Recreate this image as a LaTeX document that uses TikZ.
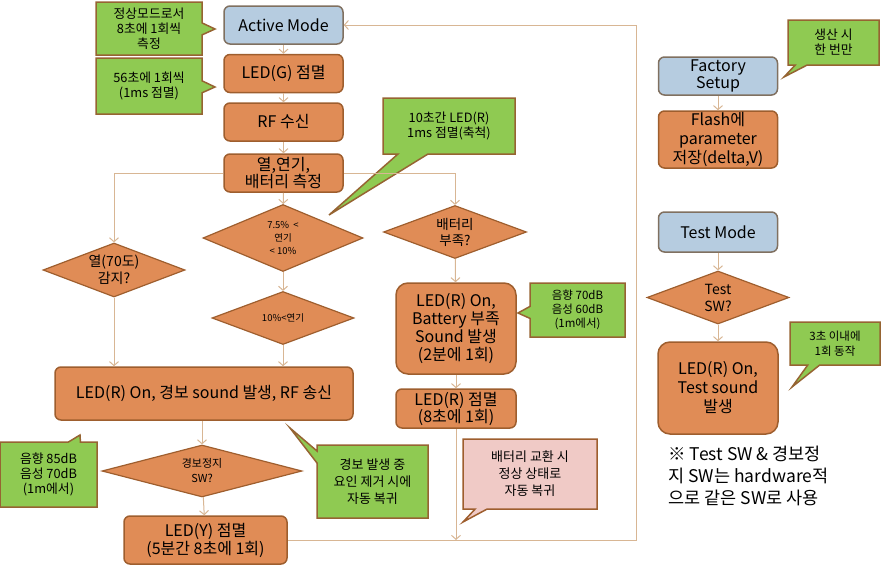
\documentclass[tikz,border=0pt]{standalone}
\usepackage{fontspec}
\setmainfont{Noto Sans CJK KR}
\usetikzlibrary{shapes.geometric,shapes.callouts,arrows.meta}

\definecolor{boxfill}{RGB}{224,140,86}
\definecolor{boxline}{RGB}{158,94,46}
\definecolor{modefill}{RGB}{182,204,224}
\definecolor{modeline}{RGB}{128,112,96}
\definecolor{notefill}{RGB}{143,202,82}
\definecolor{noteline}{RGB}{150,100,50}
\definecolor{pinkfill}{RGB}{240,202,198}
\definecolor{flowline}{RGB}{216,182,148}

\begin{document}
\begin{tikzpicture}[x=1pt,y=-1pt,
    box/.style={rectangle, rounded corners=6pt, draw=boxline, fill=boxfill, line width=1.5pt,
        align=center, inner sep=0pt, minimum width=119pt, minimum height=38pt,
        font=\fontsize{16}{18}\selectfont},
    mode/.style={box, draw=modeline, fill=modefill},
    dec/.style={diamond, shape aspect=3, draw=boxline, fill=boxfill, line width=1.2pt,
        align=center, inner sep=0pt, font=\fontsize{13.5}{16}\selectfont},
    memo/.style={rectangle callout, draw=noteline, fill=notefill, line width=1.5pt,
        align=center, inner sep=0pt, callout pointer width=12pt,
        font=\fontsize{12.8}{15}\selectfont},
    flow/.style={draw=flowline, line width=1pt, -{Straight Barb[length=4pt,width=9pt]}}]
\useasboundingbox (0,0) rectangle (881,570);

% main flow
\node[mode] (act) at (283.5,25) {Active Mode};
\node[box] (ledg) at (283.5,73.5) {LED(G) 점멸};
\node[box] (rf) at (283.5,122) {RF 수신};
\node[box, font=\fontsize{16}{17}\selectfont] (meas) at (283.5,173) {열,연기,\\배터리 측정};
\node[dec, minimum width=160pt, minimum height=67pt, font=\fontsize{9.5}{13}\selectfont] (d75) at (283,238) {7.5\% ~<\\연기\\< 10\%};
\node[dec, minimum width=142pt, minimum height=53pt, font=\fontsize{9.5}{12}\selectfont] (d10) at (283,318) {10\%<연기};
\node[dec, minimum width=142pt, minimum height=54pt, font=\fontsize{14}{17}\selectfont] (heat) at (114,270) {열(70도)\\감지?};
\node[dec, minimum width=143pt, minimum height=53pt] (bat) at (455,232) {배터리\\부족?};
\node[box, rounded corners=12pt, minimum width=120pt, minimum height=91pt] (batbox) at (456,328.5) {LED(R) On,\\Battery 부족\\Sound 발생\\(2분에 1회)};
\node[box, minimum width=120pt, minimum height=39pt, font=\fontsize{16}{17}\selectfont] (ledr) at (456,408.5) {LED(R) 점멸\\(8초에 1회)};
\node[box, minimum width=298pt, minimum height=53pt] (alarm) at (204,393.5) {LED(R) On, 경보 sound 발생, RF 송신};
\node[dec, minimum width=200pt, minimum height=52pt, font=\fontsize{11}{15}\selectfont] (stop) at (202,471) {경보정지\\SW?};
\node[box, minimum width=163pt, minimum height=48pt, font=\fontsize{16}{18}\selectfont] (ledy) at (205.5,540) {LED(Y) 점멸\\(5분간 8초에 1회)};

% factory and test modes
\node[mode, font=\fontsize{16}{17}\selectfont] (fact) at (718,76) {Factory\\Setup};
\node[box, minimum height=57pt, font=\fontsize{16}{19}\selectfont] (flash) at (718,139.5) {Flash에\\parameter\\저장(delta,V)};
\node[mode, minimum height=40pt] (testm) at (718,232) {Test Mode};
\node[dec, minimum width=142pt, minimum height=53pt, font=\fontsize{14}{17}\selectfont] (tsw) at (718,297.5) {Test\\SW?};
\node[box, rounded corners=12pt, minimum width=120pt, minimum height=92pt, font=\fontsize{16}{19}\selectfont] (tbox) at (718,388) {LED(R) On,\\Test sound\\발생};
\node[anchor=west, align=left, font=\fontsize{17.5}{22}\selectfont] (hwnote) at (665,476) {※ Test SW \& 경보정\\지 SW는 hardware적\\으로 같은 SW로 사용};

% remarks
\node[memo, minimum width=106pt, minimum height=53pt, callout absolute pointer={(215,29)}] (m1) at (149,28.5) {정상모드로서\\8초에 1회씩\\측정};
\node[memo, minimum width=106pt, minimum height=56pt, callout absolute pointer={(215,87)}] (m2) at (149,86) {56초에 1회씩\\(1ms 점멸)};
\node[memo, minimum width=132pt, minimum height=56pt, callout pointer width=30pt, callout absolute pointer={(329,215)}] (m3) at (449,126) {10초간 LED(R)\\1ms 점멸(축척)};
\node[memo, minimum width=95pt, minimum height=54pt, font=\fontsize{11.5}{14}\selectfont, callout absolute pointer={(518,313)}] (m4) at (577.5,310) {음향 70dB\\음성 60dB\\(1m에서)};
\node[memo, minimum width=91pt, minimum height=45pt, callout absolute pointer={(784,77)}] (m5) at (833.5,42.5) {생산 시\\한 번만};
\node[memo, minimum width=90pt, minimum height=43pt, font=\fontsize{11.5}{15}\selectfont, callout absolute pointer={(792,387)}] (m6) at (835,343.5) {3초 이내에\\1회 동작};
\node[memo, minimum width=97pt, minimum height=65pt, callout absolute pointer={(80,435)}] (m7) at (48.5,474.5) {음향 85dB\\음성 70dB\\(1m에서)};
\node[memo, minimum width=111pt, minimum height=73pt, font=\fontsize{13}{17}\selectfont, callout absolute pointer={(290,428)}] (m8) at (372.5,481.5) {경보 발생 중\\요인 제거 시에\\자동 복귀};
\node[memo, fill=pinkfill, draw=boxline, minimum width=134pt, minimum height=70pt, font=\fontsize{13}{17}\selectfont, callout absolute pointer={(463,522)}] (m9) at (530,474) {배터리 교환 시\\정상 상태로\\자동 복귀};

% connectors
\draw[flow] (act) -- (ledg);
\draw[flow] (ledg) -- (rf);
\draw[flow] (rf) -- (meas);
\draw[flow] (meas) -- (d75);
\draw[flow] (d75) -- (d10);
\draw[flow] (meas.west) -| (heat.north);
\draw[flow] (meas.east) -| (bat.north);
\draw[flow] (heat.south) -- (heat.south |- alarm.north);
\draw[flow] (d10.south) -- (d10.south |- alarm.north);
\draw[flow] (bat) -- (batbox);
\draw[flow] (batbox) -- (ledr);
\draw[flow] (alarm.south -| stop.north) -- (stop.north);
\draw[flow] (stop) -- (ledy);
\coordinate (turn) at (636,25);
\draw[flow] (ledy.east) -| (turn) -- (act.east);
\draw[flow] (ledr.south) -- (ledr.south |- ledy.east);
\draw[flow] (fact) -- (flash);
\draw[flow] (testm) -- (tsw);
\draw[flow] (tsw) -- (tbox);
\end{tikzpicture}
\end{document}
